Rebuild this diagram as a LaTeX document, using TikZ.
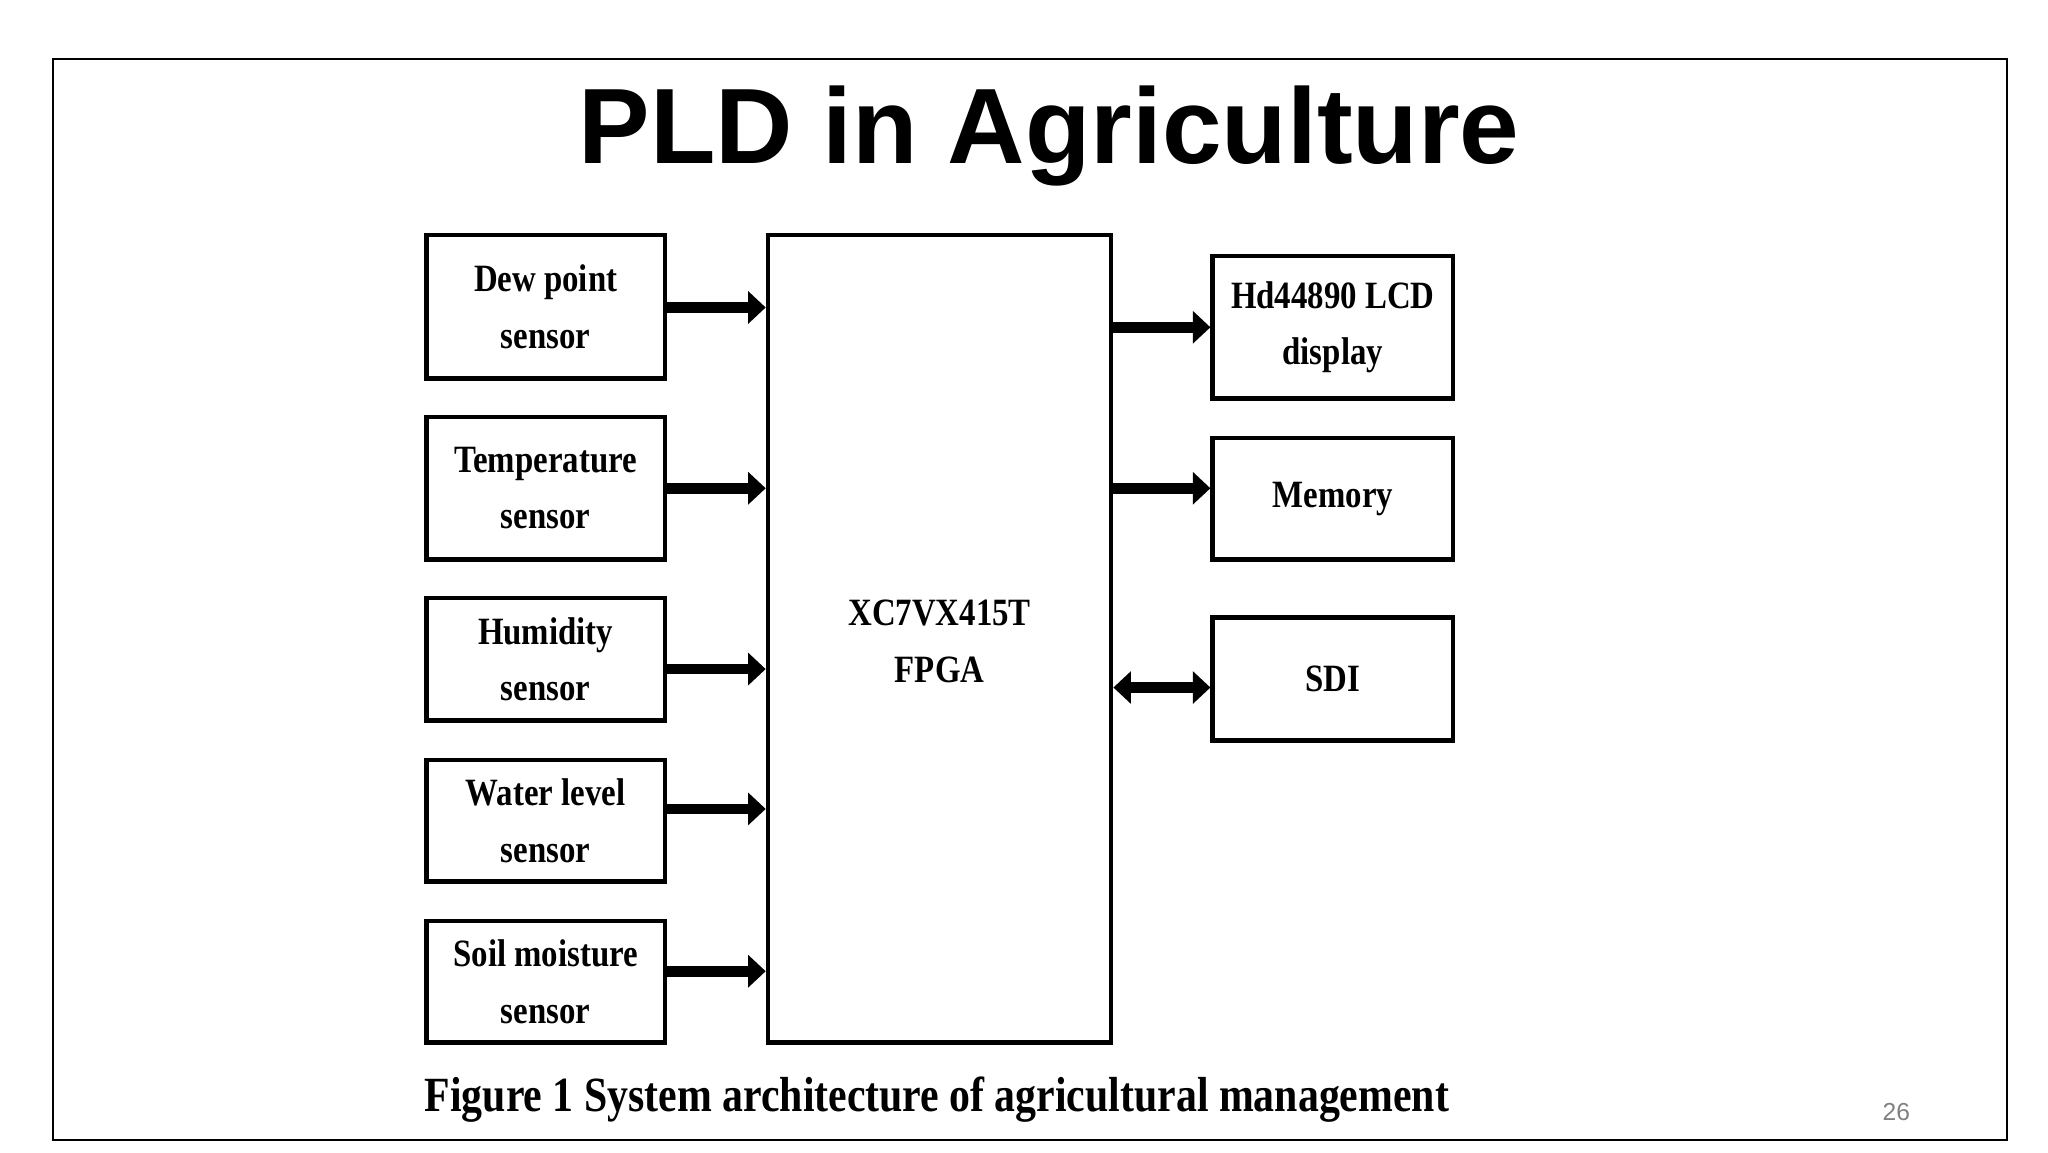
\documentclass[tikz,border=0pt]{standalone}
\usepackage{fontspec}
\setmainfont{Liberation Serif}
\newfontfamily\titlefont{Liberation Sans}
\newfontfamily\boxfont[FakeStretch=0.85]{Liberation Serif}
\usetikzlibrary{arrows.meta}
\begin{document}
\begin{tikzpicture}[x=0.013196cm,y=-0.013196cm,
  blk/.style={draw,line width=1.3pt,align=center,font=\boxfont\bfseries\fontsize{11}{16}\selectfont,inner sep=0},
  conn/.style={line width=3pt,-{Triangle[length=5pt,width=9pt]}}]
\useasboundingbox (0,0) rectangle (1552,873);
\draw[line width=0.6pt] (40,45) rectangle (1521,864);
\node[font=\titlefont\bfseries\fontsize{30.5}{34}\selectfont] (title) at (795,103) {PLD in Agriculture};
\node[blk,minimum width=181*0.013196cm,minimum height=109*0.013196cm] (s1) at (413.5,232.5) {Dew point\\sensor};
\node[blk,minimum width=181*0.013196cm,minimum height=108*0.013196cm] (s2) at (413.5,370) {Temperature\\sensor};
\node[blk,minimum width=181*0.013196cm,minimum height=93*0.013196cm] (s3) at (413.5,499.5) {Humidity\\sensor};
\node[blk,minimum width=181*0.013196cm,minimum height=92*0.013196cm] (s4) at (413.5,622) {Water level\\sensor};
\node[blk,minimum width=181*0.013196cm,minimum height=92*0.013196cm] (s5) at (413.5,744) {Soil moisture\\sensor};
\node[blk,minimum width=260*0.013196cm,minimum height=612*0.013196cm] (fpga) at (712,484) {};
\node[font=\boxfont\bfseries\fontsize{11}{16}\selectfont,align=center] (fl) at (712,486) {XC7VX415T\\FPGA};
\node[blk,minimum width=182*0.013196cm,minimum height=108*0.013196cm] (r1) at (1010,248) {Hd44890 LCD\\display};
\node[blk,minimum width=182*0.013196cm,minimum height=92*0.013196cm] (r2) at (1010,378) {Memory};
\node[blk,minimum width=182*0.013196cm,minimum height=93*0.013196cm] (r3) at (1010,514.5) {SDI};
\foreach \s/\y in {s1/233,s2/370,s3/507,s4/613,s5/736}
  \draw[conn] (\s.east |- 0,\y) -- (fpga.west |- 0,\y);
\draw[conn] (fpga.east |- 0,248) -- (r1.west |- 0,248);
\draw[conn] (fpga.east |- 0,370) -- (r2.west |- 0,370);
\draw[conn,{Triangle[length=5pt,width=9pt]}-{Triangle[length=5pt,width=9pt]}] (fpga.east |- 0,521) -- (r3.west |- 0,521);
\node[font=\boxfont\bfseries\fontsize{14}{18}\selectfont] (cap) at (710,833) {Figure 1 System architecture of agricultural management};
\node[font=\titlefont\fontsize{7}{8}\selectfont,text=gray] (pg) at (1437,843) {26};
\end{tikzpicture}
\end{document}
